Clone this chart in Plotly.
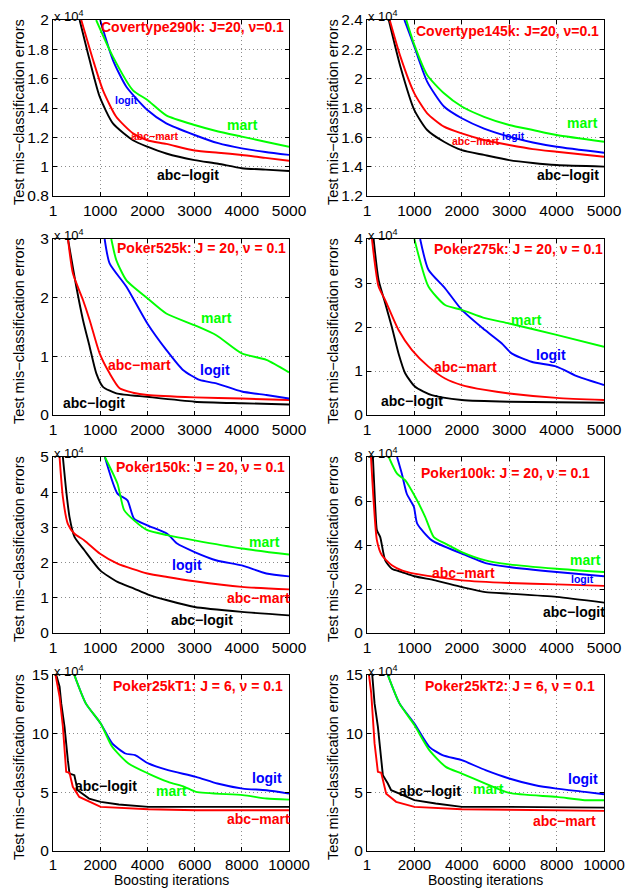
import plotly.graph_objects as go

# ---------------- data (errors in units of 10^4) ----------------
P1_ABCLOGIT_X = [565, 777, 990, 1270, 1695, 2000, 2400, 3000, 3500, 4000, 4500, 5000]
P1_ABCLOGIT_Y = [2.0, 1.727, 1.477, 1.295, 1.18, 1.136, 1.09, 1.045, 1.02, 0.989, 0.98, 0.97]
P1_ABCMART_X = [600, 850, 1060, 1340, 1695, 2000, 2400, 3000, 3500, 4000, 4500, 5000]
P1_ABCMART_Y = [2.0, 1.727, 1.52, 1.34, 1.227, 1.18, 1.155, 1.11, 1.095, 1.08, 1.06, 1.04]
P1_LOGIT_X = [1000, 1270, 1555, 2000, 2400, 3000, 3500, 4000, 4500, 5000]
P1_LOGIT_Y = [2.0, 1.727, 1.545, 1.386, 1.295, 1.216, 1.16, 1.125, 1.10, 1.08]
P1_MART_X = [915, 1270, 1695, 2000, 2400, 3000, 3500, 4000, 4500, 5000]
P1_MART_Y = [2.0, 1.75, 1.52, 1.455, 1.35, 1.284, 1.24, 1.205, 1.17, 1.136]

P2_ABCLOGIT_X = [460, 706, 1000, 1270, 1625, 2000, 2470, 3000, 3500, 4000, 5000]
P2_ABCLOGIT_Y = [2.4, 2.082, 1.786, 1.65, 1.57, 1.513, 1.48, 1.445, 1.425, 1.411, 1.40]
P2_ABCMART_X = [480, 706, 1000, 1270, 1625, 2000, 2470, 3000, 3500, 4000, 5000]
P2_ABCMART_Y = [2.4, 2.15, 1.9, 1.764, 1.673, 1.627, 1.582, 1.548, 1.52, 1.502, 1.468]
P2_LOGIT_X = [790, 1000, 1270, 1625, 2000, 2470, 3000, 3500, 4000, 5000]
P2_LOGIT_Y = [2.4, 2.218, 1.98, 1.81, 1.73, 1.66, 1.605, 1.565, 1.536, 1.495]
P2_MART_X = [830, 1000, 1270, 1625, 2000, 2470, 3000, 3500, 4000, 5000]
P2_MART_Y = [2.4, 2.23, 2.025, 1.9, 1.81, 1.74, 1.684, 1.65, 1.616, 1.57]

P3_ABCLOGIT_X = [318, 494, 636, 777, 918, 1060, 1342, 2000, 3000, 4000, 5000]
P3_ABCLOGIT_Y = [3.0, 2.19, 1.62, 1.165, 0.71, 0.48, 0.37, 0.31, 0.227, 0.2, 0.18]
P3_ABCMART_X = [318, 424, 636, 777, 989, 1200, 1412, 1695, 2000, 3000, 4000, 5000]
P3_ABCMART_Y = [3.0, 2.41, 1.96, 1.62, 1.05, 0.71, 0.455, 0.38, 0.34, 0.30, 0.28, 0.255]
P3_LOGIT_X = [1095, 1200, 1553, 2000, 2400, 2754, 3107, 3460, 4000, 4520, 5000]
P3_LOGIT_Y = [3.0, 2.585, 2.19, 1.56, 1.11, 0.767, 0.597, 0.54, 0.40, 0.34, 0.28]
P3_MART_X = [1236, 1342, 1553, 2000, 2400, 3000, 3460, 4000, 4520, 5000]
P3_MART_Y = [3.0, 2.64, 2.30, 1.99, 1.73, 1.53, 1.36, 1.05, 0.94, 0.727]

P4_ABCLOGIT_X = [140, 245, 385, 525, 666, 806, 1017, 1367, 2000, 3000, 4000, 5000]
P4_ABCLOGIT_Y = [4.0, 3.07, 2.54, 2.0, 1.40, 0.95, 0.64, 0.45, 0.34, 0.30, 0.29, 0.28]
P4_ABCMART_X = [105, 245, 385, 666, 946, 1297, 1648, 2000, 2490, 3000, 4000, 5000]
P4_ABCMART_Y = [4.0, 2.92, 2.61, 1.93, 1.48, 1.1, 0.83, 0.68, 0.57, 0.49, 0.39, 0.34]
P4_LOGIT_X = [1122, 1297, 1648, 2000, 2490, 2840, 3050, 3470, 4000, 4455, 5000]
P4_LOGIT_Y = [4.0, 3.3, 2.88, 2.39, 1.93, 1.63, 1.40, 1.21, 1.1, 0.87, 0.68]
P4_MART_X = [1000, 1297, 1648, 2000, 2490, 3000, 4000, 5000]
P4_MART_Y = [4.0, 2.92, 2.5, 2.39, 2.2, 2.08, 1.82, 1.55]

P5_ABCLOGIT_X = [210, 280, 350, 456, 666, 1000, 1367, 1718, 2000, 2420, 3000, 4000, 5000]
P5_ABCLOGIT_Y = [5.0, 4.05, 3.30, 2.73, 2.35, 1.78, 1.45, 1.26, 1.1, 0.93, 0.74, 0.6, 0.50]
P5_ABCMART_X = [140, 210, 315, 456, 666, 1000, 1367, 2000, 2420, 3000, 4000, 5000]
P5_ABCMART_Y = [5.0, 3.86, 3.1, 2.82, 2.63, 2.25, 1.97, 1.69, 1.59, 1.47, 1.31, 1.24]
P5_LOGIT_X = [1100, 1367, 1578, 1718, 2000, 2420, 2630, 3000, 3470, 4000, 4520, 5000]
P5_LOGIT_Y = [5.0, 3.96, 3.77, 3.25, 3.06, 2.82, 2.54, 2.30, 2.06, 1.92, 1.69, 1.61]
P5_MART_X = [1100, 1367, 1508, 1718, 2000, 2420, 3000, 4000, 5000]
P5_MART_Y = [5.0, 4.24, 3.49, 3.2, 2.92, 2.78, 2.63, 2.40, 2.23]

P6_ABCLOGIT_X = [125, 175, 210, 280, 385, 525, 736, 1000, 1440, 2000, 2500, 3000, 4000, 5000]
P6_ABCLOGIT_Y = [8.0, 5.73, 4.67, 4.36, 3.30, 2.92, 2.77, 2.58, 2.39, 2.09, 1.86, 1.79, 1.64, 1.38]
P6_ABCMART_X = [85, 140, 210, 315, 525, 736, 1000, 1440, 2000, 3000, 4000, 5000]
P6_ABCMART_Y = [8.0, 6.03, 4.21, 3.53, 3.08, 2.85, 2.70, 2.55, 2.39, 2.27, 2.21, 2.14]
P6_LOGIT_X = [635, 736, 840, 990, 1060, 1370, 2000, 2500, 3000, 4000, 5000]
P6_LOGIT_Y = [8.0, 7.24, 6.33, 5.73, 4.97, 4.21, 3.61, 3.18, 3.0, 2.77, 2.58]
P6_MART_X = [460, 635, 810, 1020, 1230, 1410, 1655, 2000, 2500, 3000, 4000, 5000]
P6_MART_Y = [8.0, 7.24, 6.94, 6.18, 5.27, 4.36, 4.06, 3.68, 3.30, 3.12, 2.92, 2.77]

P7_ABCLOGIT_X = [140, 280, 350, 490, 630, 700, 905, 1045, 1530, 2020, 2790, 4040, 6060, 10000]
P7_ABCLOGIT_Y = [15, 14.0, 12.58, 10.59, 7.74, 6.6, 6.46, 5.18, 4.47, 4.19, 3.96, 3.76, 3.76, 3.76]
P7_ABCMART_X = [110, 280, 420, 560, 700, 840, 1115, 1530, 2020, 4040, 6060, 10000]
P7_ABCMART_Y = [15, 13.15, 10.59, 6.75, 6.66, 5.47, 4.61, 4.19, 3.76, 3.56, 3.47, 3.47]
P7_LOGIT_X = [905, 1390, 2020, 2510, 3065, 3480, 4040, 4875, 6060, 6965, 8040, 9050, 10000]
P7_LOGIT_Y = [15, 12.58, 10.87, 9.17, 8.31, 8.17, 7.46, 6.89, 6.32, 5.75, 5.32, 5.18, 4.89]
P7_MART_X = [905, 1390, 2020, 2510, 3200, 4040, 4875, 5570, 6060, 8040, 9050, 10000]
P7_MART_Y = [15, 12.58, 10.87, 8.88, 7.46, 6.6, 5.89, 5.47, 5.04, 4.76, 4.47, 4.38]

P8_ABCLOGIT_X = [223, 320, 460, 600, 670, 880, 1020, 1370, 2000, 2900, 4000, 6000, 10000]
P8_ABCLOGIT_Y = [15, 12.58, 10.59, 7.74, 6.46, 5.75, 5.18, 4.89, 4.33, 4.05, 3.76, 3.76, 3.70]
P8_ABCMART_X = [85, 180, 320, 460, 600, 810, 1230, 2000, 4000, 10000]
P8_ABCMART_Y = [15, 13.43, 9.17, 6.75, 6.66, 4.89, 4.19, 3.76, 3.56, 3.42]
P8_LOGIT_X = [880, 1370, 2000, 2630, 3185, 4000, 5000, 6000, 7100, 8000, 9190, 10000]
P8_LOGIT_Y = [15, 12.58, 10.87, 8.88, 8.17, 7.74, 6.89, 6.18, 5.6, 5.32, 5.04, 4.84]
P8_MART_X = [880, 1370, 2000, 2630, 3325, 4000, 5000, 6000, 8000, 9190, 10000]
P8_MART_Y = [15, 12.58, 10.73, 8.6, 7.17, 6.6, 5.75, 4.95, 4.61, 4.33, 4.33]

TITLES = ["Covertype290k: J=20, \u03bd=0.1", "Covertype145k: J=20, \u03bd=0.1",
          "Poker525k: J = 20, \u03bd = 0.1", "Poker275k: J = 20, \u03bd = 0.1",
          "Poker150k: J = 20, \u03bd = 0.1", "Poker100k: J = 20, \u03bd = 0.1",
          "Poker25kT1: J = 6, \u03bd = 0.1", "Poker25kT2: J = 6, \u03bd = 0.1"]

Y_TICKS = [[0.8, 1.0, 1.2, 1.4, 1.6, 1.8, 2.0],
           [1.2, 1.4, 1.6, 1.8, 2.0, 2.2, 2.4],
           [0, 1, 2, 3], [0, 1, 2, 3, 4], [0, 1, 2, 3, 4, 5],
           [0, 2, 4, 6, 8], [0, 5, 10, 15], [0, 5, 10, 15]]
Y_TICK_LABELS = [["0.8", "1", "1.2", "1.4", "1.6", "1.8", "2"],
                 ["1.2", "1.4", "1.6", "1.8", "2", "2.2", "2.4"],
                 ["0", "1", "2", "3"], ["0", "1", "2", "3", "4"], ["0", "1", "2", "3", "4", "5"],
                 ["0", "2", "4", "6", "8"], ["0", "5", "10", "15"], ["0", "5", "10", "15"]]
X_TICKS_5K = [1, 1000, 2000, 3000, 4000, 5000]
X_TICKS_10K = [1, 2000, 4000, 6000, 8000, 10000]
X_TICK_LABELS_5K = ["1", "1000", "2000", "3000", "4000", "5000"]
X_TICK_LABELS_10K = ["1", "2000", "4000", "6000", "8000", "10000"]

SERIES = [
    [(P1_ABCLOGIT_X, P1_ABCLOGIT_Y), (P1_ABCMART_X, P1_ABCMART_Y), (P1_LOGIT_X, P1_LOGIT_Y), (P1_MART_X, P1_MART_Y)],
    [(P2_ABCLOGIT_X, P2_ABCLOGIT_Y), (P2_ABCMART_X, P2_ABCMART_Y), (P2_LOGIT_X, P2_LOGIT_Y), (P2_MART_X, P2_MART_Y)],
    [(P3_ABCLOGIT_X, P3_ABCLOGIT_Y), (P3_ABCMART_X, P3_ABCMART_Y), (P3_LOGIT_X, P3_LOGIT_Y), (P3_MART_X, P3_MART_Y)],
    [(P4_ABCLOGIT_X, P4_ABCLOGIT_Y), (P4_ABCMART_X, P4_ABCMART_Y), (P4_LOGIT_X, P4_LOGIT_Y), (P4_MART_X, P4_MART_Y)],
    [(P5_ABCLOGIT_X, P5_ABCLOGIT_Y), (P5_ABCMART_X, P5_ABCMART_Y), (P5_LOGIT_X, P5_LOGIT_Y), (P5_MART_X, P5_MART_Y)],
    [(P6_ABCLOGIT_X, P6_ABCLOGIT_Y), (P6_ABCMART_X, P6_ABCMART_Y), (P6_LOGIT_X, P6_LOGIT_Y), (P6_MART_X, P6_MART_Y)],
    [(P7_ABCLOGIT_X, P7_ABCLOGIT_Y), (P7_ABCMART_X, P7_ABCMART_Y), (P7_LOGIT_X, P7_LOGIT_Y), (P7_MART_X, P7_MART_Y)],
    [(P8_ABCLOGIT_X, P8_ABCLOGIT_Y), (P8_ABCMART_X, P8_ABCMART_Y), (P8_LOGIT_X, P8_LOGIT_Y), (P8_MART_X, P8_MART_Y)],
]
SERIES_NAMES = ["abc-logit", "abc-mart", "logit", "mart"]

# ---------------- styling / layout ----------------
COLORS = ["#000000", "#ff0000", "#0000ff", "#00ff00"]
FONT = "Liberation Sans, Arial, Helvetica, sans-serif"
OFF = 8                      # default page (body) margin of the browser
W, H = 637 - OFF, 888 - OFF  # figure size so that it fills the window
COL_PX = [(53, 289), (367, 604)]          # window pixels
ROW_PX = [(20, 196), (239, 415), (457, 633), (675, 851)]


def px_x(p):
    return (p - OFF) / W


def px_y(p):
    return 1 - (p - OFF) / H


# label positions (data coords) : (series index, x, y, size)
LABELS = [
    [(3, 4025, 1.284, 14), (2, 1554, 1.455, 10.5), (1, 2154, 1.21, 10.5), (0, 2860, 0.943, 14)],
    [(3, 4555, 1.70, 14), (2, 3100, 1.61, 10.5), (1, 2300, 1.577, 10.5), (0, 4240, 1.34, 14)],
    [(3, 3460, 1.65, 14), (2, 3425, 0.77, 14), (1, 1836, 0.86, 14), (0, 860, 0.21, 14)],
    [(3, 3370, 2.17, 14), (2, 3890, 1.36, 14), (1, 2070, 1.08, 14), (0, 950, 0.32, 14)],
    [(3, 4490, 2.59, 14), (2, 2840, 1.92, 14), (1, 4350, 0.99, 14), (0, 3160, 0.36, 14)],
    [(3, 4610, 3.30, 14), (2, 4540, 2.47, 10.5), (1, 2040, 2.73, 14), (0, 4365, 0.95, 14)],
    [(2, 9050, 6.26, 14), (3, 5015, 5.1, 14), (0, 2250, 5.55, 14), (1, 8700, 2.76, 14)],
    [(2, 9110, 6.12, 14), (3, 5140, 5.27, 14), (0, 2650, 5.1, 14), (1, 8350, 2.53, 14)],
]
TITLE_POS = [(0.589, 0.958), (0.593, 0.939), (0.631, 0.947), (0.638, 0.943),
             (0.624, 0.943), (0.586, 0.911), (0.613, 0.937), (0.605, 0.937)]

fig = go.Figure()
annotations = []
layout = dict(width=W, height=H, margin=dict(l=0, r=0, t=0, b=0, autoexpand=False),
              paper_bgcolor="white", plot_bgcolor="white", showlegend=False,
              font=dict(family=FONT, color="black"))

for i in range(8):
    r, c = divmod(i, 2)
    k = i + 1
    sfx = "" if k == 1 else str(k)
    xa, ya = "x" + sfx, "y" + sfx
    x0, x1 = COL_PX[c]
    y0, y1 = ROW_PX[r]
    big = r == 3
    for s, (xs, ys) in enumerate(SERIES[i]):
        shape = "linear" if big and s < 2 else "spline"
        fig.add_trace(go.Scatter(x=xs, y=ys, mode="lines", name=SERIES_NAMES[s],
                                 line=dict(color=COLORS[s], width=1.9, shape=shape, smoothing=0.6),
                                 xaxis=xa, yaxis=ya, hoverinfo="skip"))
    yt = Y_TICKS[i]
    common = dict(showline=True, linecolor="black", linewidth=1, mirror="ticks",
                  ticks="inside", ticklen=4, tickcolor="black", automargin=False,
                  showgrid=True, gridcolor="#8c8c8c", griddash="1px,3px", gridwidth=1,
                  zeroline=False)
    layout["xaxis" + sfx] = dict(
        domain=[px_x(x0), px_x(x1)], anchor=ya,
        range=[1, 10000 if big else 5000],
        tickvals=X_TICKS_10K if big else X_TICKS_5K,
        ticktext=X_TICK_LABELS_10K if big else X_TICK_LABELS_5K,
        tickfont=dict(size=15 if big else 15.5, family=FONT),
        **common)
    layout["yaxis" + sfx] = dict(
        domain=[px_y(y1), px_y(y0)], anchor=xa,
        range=[yt[0], yt[-1]], tickvals=yt, ticktext=Y_TICK_LABELS[i],
        tickfont=dict(size=15.5, family=FONT),
        **common)
    # y title
    annotations.append(dict(text="Test mis\u2212classification errors", textangle=-90,
                            xref="paper", yref="paper",
                            x=px_x(x0 - 34), y=px_y((y0 + y1) / 2 + 4),
                            xanchor="center", yanchor="middle", showarrow=False,
                            font=dict(size=14.5, family=FONT)))
    # x title (only bottom row is fully visible)
    if big:
        annotations.append(dict(text="Boosting iterations", xref="paper", yref="paper",
                                x=px_x((x0 + x1) / 2), y=px_y(880),
                                xanchor="center", yanchor="middle", showarrow=False,
                                font=dict(size=14, family=FONT)))
    # multiplier
    annotations.append(dict(text="x 10<sup>4</sup>", xref=xa + " domain", yref=ya + " domain",
                            x=0, y=1, xanchor="left", yanchor="bottom", xshift=-1, yshift=-6,
                            showarrow=False, font=dict(size=13, family=FONT)))
    # panel title
    tx, ty = TITLE_POS[i]
    annotations.append(dict(text="<b>" + TITLES[i] + "</b>", xref=xa + " domain", yref=ya + " domain",
                            x=tx, y=ty, xanchor="center", yanchor="middle", showarrow=False,
                            font=dict(size=14, color="#ff0000", family=FONT)))
    # curve labels
    for s, lx, ly, fs in LABELS[i]:
        annotations.append(dict(text="<b>" + SERIES_NAMES[s].replace("-", "\u2212") + "</b>",
                                xref=xa, yref=ya, x=lx, y=ly,
                                xanchor="center", yanchor="middle", showarrow=False,
                                font=dict(size=fs, color=COLORS[s], family=FONT)))

layout["annotations"] = annotations
fig.update_layout(**layout)
fig.write_html("out.html")
